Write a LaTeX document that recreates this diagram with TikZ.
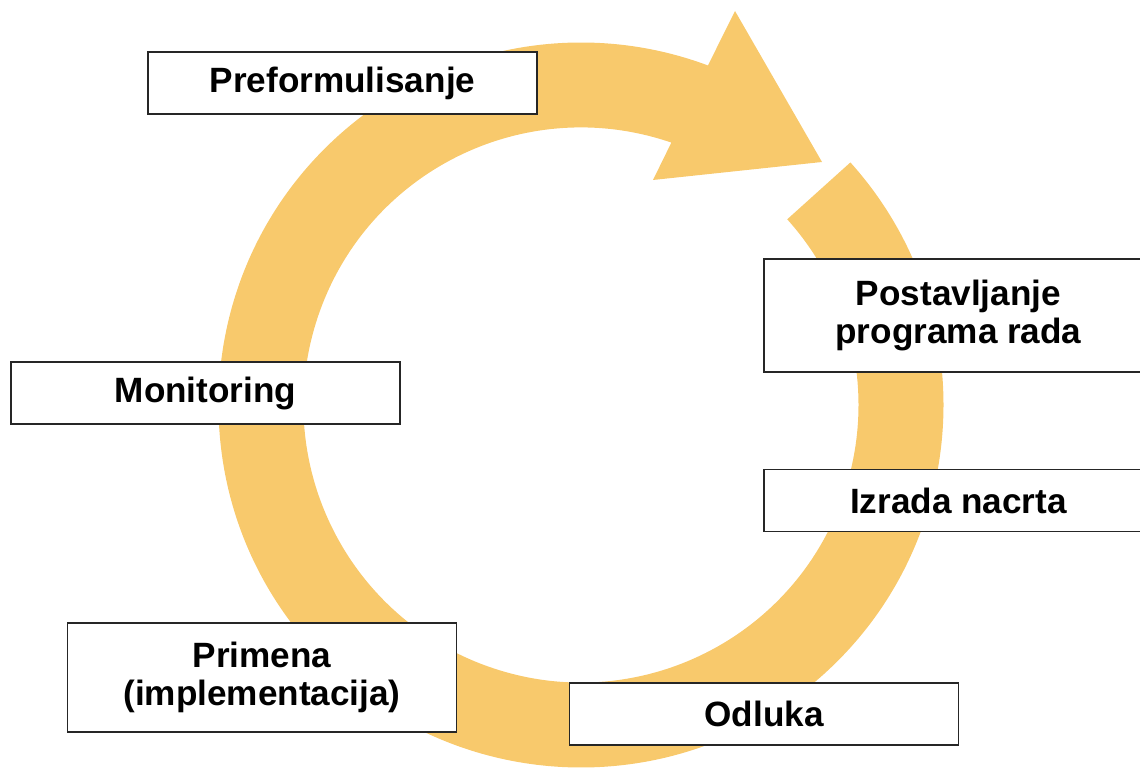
\documentclass[tikz,border=0pt]{standalone}
\usepackage{fontspec}
\setmainfont{Liberation Sans}
\begin{document}
\begin{tikzpicture}[scale=1,
    box/.style={draw=boxline, fill=white, line width=1pt, minimum width=7.78cm,
        minimum height=1.24cm, inner sep=0pt, align=center,
        font=\fontsize{20}{21.5}\selectfont\bfseries}]
    \definecolor{ringc}{RGB}{248,201,108}
    \colorlet{boxline}{gray!30!black}

    \clip (0,0) rectangle (22.8,15.42);

    %% circular arrow
    \begin{scope}[shift={(11.62,7.32)}]
        \fill[ringc] (42:7.25) arc[start angle=42, end angle=-290.5, radius=7.25]
            -- (3.08,7.88) -- (4.82,4.86) -- (1.44,4.5) -- (71:5.55)
            arc[start angle=-289, end angle=42, radius=5.55] -- cycle;
    \end{scope}

    \node[box] (prefor) at (6.85,13.76) {Preformulisanje};
    \node[box] (monit) at (4.11,7.56) {Monitoring};
    \node[box, minimum height=2.26cm] (postav) at (19.17,9.11) {Postavljanje\\programa rada};
    \node[box] (izrada) at (19.17,5.41) {Izrada nacrta};
    \node[box, minimum height=2.18cm] (primena) at (5.24,1.87) {Primena\\(implementacija)};
    \node[box] (odluka) at (15.28,1.14) {Odluka};

\end{tikzpicture}
\end{document}
